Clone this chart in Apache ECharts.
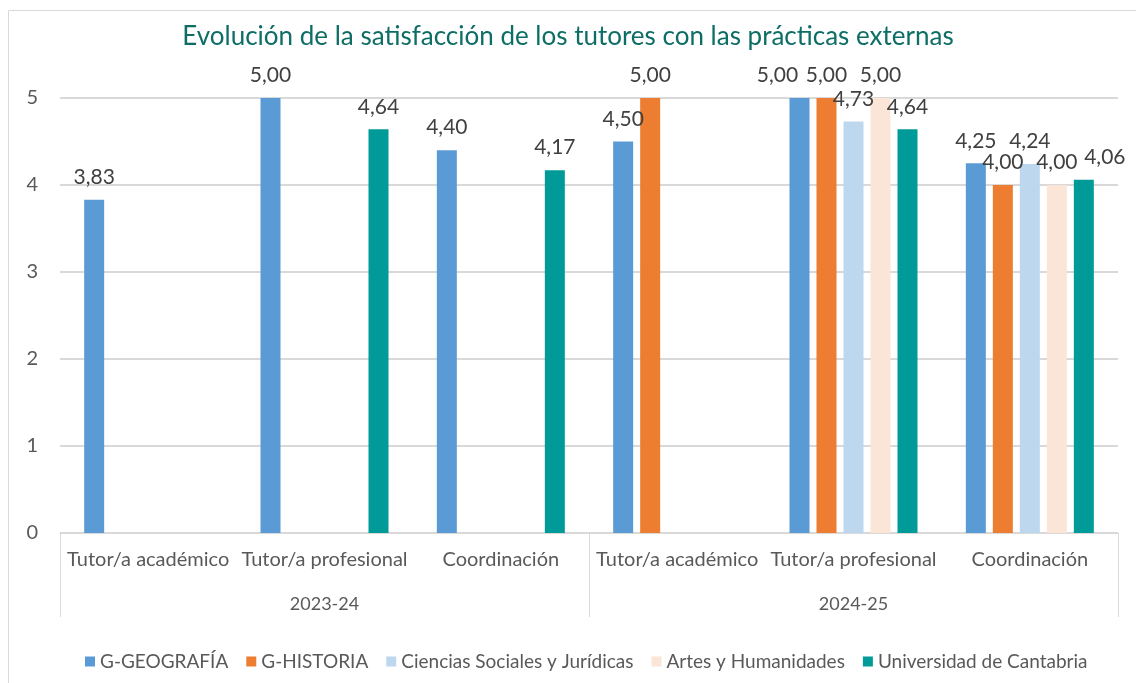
<!DOCTYPE html>
<html>
<head>
<meta charset="utf-8">
<script src="https://cdn.jsdelivr.net/npm/echarts@6/dist/echarts.min.js"></script>
<style>
  html, body { margin: 0; padding: 0; background: #fff; }
  #chart { width: 1136px; height: 683px; }
</style>
</head>
<body>
<div id="chart"></div>
<script>
  const categories = ['Tutor/a académico', 'Tutor/a profesional', 'Coordinación',
    'Tutor/a académico', 'Tutor/a profesional', 'Coordinación'];
  const years = ['2023-24', '2024-25'];
  const seriesNames = ['G-GEOGRAFÍA', 'G-HISTORIA', 'Ciencias Sociales y Jurídicas',
    'Artes y Humanidades', 'Universidad de Cantabria'];
  const colors = ['#5b9bd5', '#ed7d31', '#bdd7ee', '#fbe5d6', '#009a98'];

  const geografia = [3.83, 5.00, 4.40, 4.50, 5.00, 4.25];
  const historia = [null, null, null, 5.00, 5.00, 4.00];
  const cienciasSociales = [null, null, null, null, 4.73, 4.24];
  const artesHumanidades = [null, null, null, null, 5.00, 4.00];
  const universidad = [null, 4.64, 4.17, null, 4.64, 4.06];
  const values = [geografia, historia, cienciasSociales, artesHumanidades, universidad];

  // labels Excel nudged sideways to avoid overlaps: [series, category, dx]
  const labelNudges = [[0, 4, -22], [4, 5, 21]];

  const font = 'Lato, "Liberation Sans", sans-serif';
  const textColor = '#404040';
  const axisColor = '#595959';
  const lineColor = '#d9d9d9';

  function fmt(v) {
    return Number(v).toFixed(2).replace('.', ',');
  }

  function seriesData(i) {
    return values[i].map((v, j) => {
      const nudge = labelNudges.find((n) => n[0] === i && n[1] === j);
      if (!nudge) return v;
      return { value: v, label: { offset: [nudge[2], 0] } };
    });
  }

  const instance = echarts.init(document.getElementById('chart'), null, { renderer: 'canvas' });

  const option = {
    animation: false,
    color: colors,
    textStyle: { fontFamily: font },
    title: {
      text: 'Evolución de la satisfacción de los tutores con las prácticas externas',
      left: 'center',
      top: 19,
      textStyle: { color: '#0e6e66', fontSize: 26, fontWeight: 'normal', fontFamily: font },
    },
    graphic: [{
      type: 'rect',
      shape: { x: 8.5, y: 10.5, width: 1200, height: 800 },
      style: { fill: 'none', stroke: lineColor, lineWidth: 1 },
      silent: true,
    }],
    legend: {
      bottom: 7,
      left: 80,
      icon: 'rect',
      itemWidth: 10,
      itemHeight: 10,
      itemGap: 18,
      textStyle: { color: axisColor, fontSize: 19, fontFamily: font },
      data: seriesNames,
    },
    grid: { left: 60, right: 18, top: 98, bottom: 150, containLabel: false },
    xAxis: [
      {
        type: 'category',
        data: categories,
        position: 'bottom',
        offset: 0,
        axisLine: { lineStyle: { color: lineColor } },
        axisTick: { show: false },
        axisLabel: { color: axisColor, fontSize: 20, margin: 17, interval: 0, fontFamily: font },
      },
      {
        type: 'category',
        data: years,
        position: 'bottom',
        offset: 0,
        axisLine: { show: false },
        axisTick: { show: true, length: 84, lineStyle: { color: lineColor } },
        axisLabel: { color: axisColor, fontSize: 18, margin: 62, fontFamily: font },
      },
    ],
    yAxis: {
      type: 'value',
      min: 0,
      max: 5,
      interval: 1,
      axisLine: { show: false },
      axisTick: { show: false },
      axisLabel: { color: axisColor, fontSize: 20, margin: 22, fontFamily: font },
      splitLine: { lineStyle: { color: lineColor, width: 2 } },
    },
    series: seriesNames.map((name, i) => ({
      name: name,
      type: 'bar',
      xAxisIndex: 0,
      barWidth: 20,
      barGap: '35%',
      data: seriesData(i),
      label: {
        show: true,
        position: 'top',
        distance: 12,
        color: textColor,
        fontSize: 21,
        fontFamily: font,
        formatter: (p) => p.value == null ? '' : fmt(p.value),
      },
    })),
  };

  instance.setOption(option, true);

  window.addEventListener('resize', () => instance.resize());
</script>
</body>
</html>
